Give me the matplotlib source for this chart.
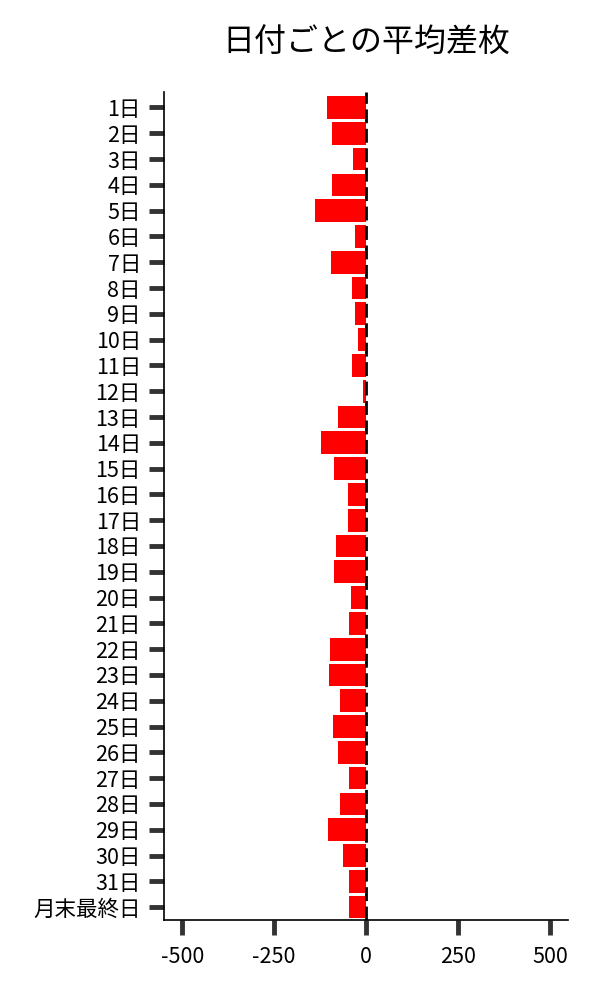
import matplotlib
matplotlib.use("Agg")
import matplotlib.pyplot as plt

plt.rcParams['font.family'] = ['Noto Sans CJK JP', 'DejaVu Sans']

# 日付ラベルと平均差枚
days = [f"{i}日" for i in range(1, 32)] + ["月末最終日"]
avg_diff = [-106, -92, -35, -92, -138, -30, -95, -38, -30, -22,
            -38, -8, -76, -122, -87, -49, -49, -81, -87, -41,
            -46, -98, -100, -70, -89, -76, -46, -70, -103, -62,
            -46, -46]
xticks = [-500, -250, 0, 250, 500]

fig = plt.figure(figsize=(6, 10), dpi=100)
ax = fig.add_axes([0.273, 0.08, 0.674, 0.828])

ax.barh(range(len(days)), avg_diff, height=0.88, color='red', zorder=2)
ax.axvline(0, color='black', ls='--', lw=2, dashes=(5, 2), zorder=3)

ax.set_yticks(range(len(days)))
ax.set_yticklabels(days)
ax.set_ylim(31.5, -0.6)
ax.set_xlim(-550, 550)
ax.set_xticks(xticks)
ax.set_xticklabels([str(v) for v in xticks])

ax.spines['top'].set_visible(False)
ax.spines['right'].set_visible(False)
ax.spines['left'].set_linewidth(1.2)
ax.spines['bottom'].set_linewidth(1.2)
ax.tick_params(axis='y', length=11, width=3.5, color='#333333', pad=5.5, labelsize=15.5)
ax.tick_params(axis='x', length=11, width=3.5, color='#333333', pad=8, labelsize=15.5)

ax.set_title("日付ごとの平均差枚", fontsize=23, pad=29)

fig.savefig("out.png", dpi=100)
